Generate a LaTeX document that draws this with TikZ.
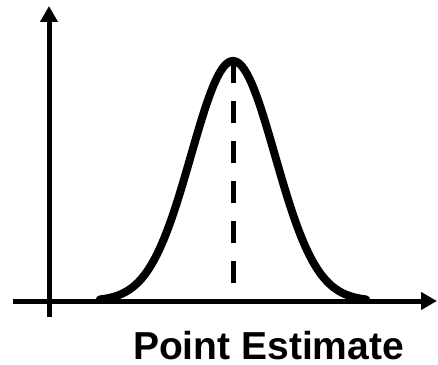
\documentclass[tikz,border=0pt]{standalone}
\usepackage{fontspec}
\setmainfont{Liberation Sans}
\usetikzlibrary{arrows.meta}
\begin{document}
\begin{tikzpicture}[x=1pt,y=1pt,
  axis/.style={line width=5pt,-{Triangle[length=16pt,width=17pt]}},
  curve/.style={line width=8pt,line cap=round,line join=round},
  guide/.style={line width=5pt,dash pattern=on 22pt off 18pt},
  lbl/.style={font=\fontsize{39}{39}\selectfont\bfseries,inner sep=0pt,anchor=base}]
\useasboundingbox (0,0) rectangle (438,364);
\coordinate (ybot) at (49,47);
\coordinate (ytop) at (49,358);
\coordinate (xl) at (13,63);
\coordinate (xr) at (437,63);
\coordinate (peak) at (233,303);
\coordinate (foot) at (233,63);
\draw[axis] (ybot) -- (ytop);
\draw[axis] (xl) -- (xr);
\draw[guide] (peak) -- (foot);
\draw[curve] plot[domain=-3.17:3.17,samples=160,smooth] ({233+42*\x},{63+240*exp(-0.5*\x*\x)});
\node[lbl] (title) at (268.5,5) {Point Estimate};
\end{tikzpicture}
\end{document}
